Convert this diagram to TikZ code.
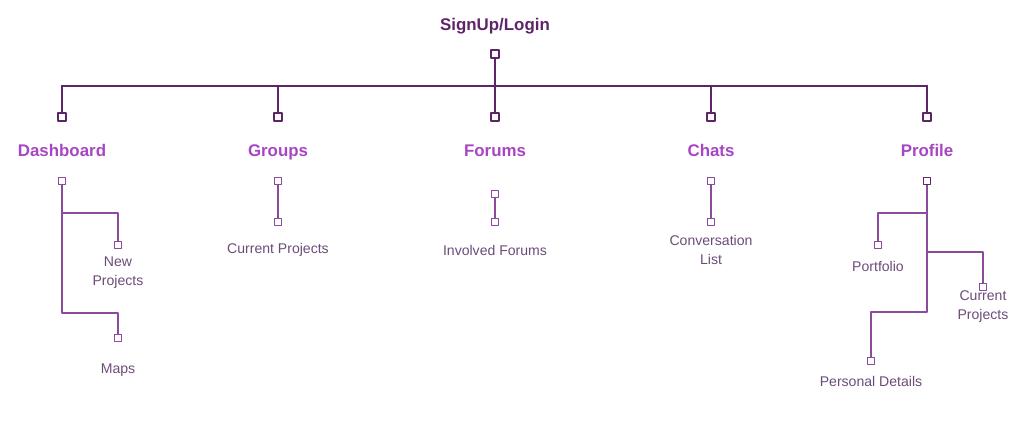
\documentclass[tikz,border=0pt]{standalone}
\usepackage{fontspec}
\setmainfont{Liberation Sans}
\usetikzlibrary{positioning}
\definecolor{rootc}{HTML}{5E2468}
\definecolor{headc}{HTML}{A845C4}
\definecolor{subc}{HTML}{8A4A9E}
\definecolor{textc}{HTML}{6B4C78}

\begin{document}
\begin{tikzpicture}[line cap=round,line join=round,x=0.025cm,y=-0.025cm,
  bigbox/.style={draw=rootc, line width=1.6pt, fill=white, minimum size=6pt, inner sep=0pt},
  smallbox/.style={draw=subc, line width=0.8pt, fill=white, minimum size=5pt, inner sep=0pt},
  head/.style={text=headc, anchor=base, font=\bfseries\fontsize{12}{14}\selectfont},
  leaf/.style={text=textc, font=\fontsize{10}{13.5}\selectfont, align=center},
  trunk/.style={draw=rootc, line width=1.6pt},
  twig/.style={draw=subc, line width=0.8pt}]
\useasboundingbox (0,0) rectangle (1032,427);

% Root
\node [text=rootc, anchor=base, font=\bfseries\fontsize{12}{14}\selectfont] (root) at (495,31) {SignUp/Login};
\node [bigbox] (rootbox) at (495,54) {};
\coordinate (barL) at (62,86);
\coordinate (barR) at (927,86);
\draw [trunk] (barL) -- (barR);
\draw [trunk] (rootbox) -- (495,86);

% Main sections
\foreach \name/\txt/\x in {dash/Dashboard/62, grp/Groups/278, frm/Forums/495, cht/Chats/711, prf/Profile/927} {
  \node [bigbox] (\name top) at (\x,117) {};
  \node [head] (\name) at (\x,156) {\txt};
  \draw [trunk] (\x,86) -- (\name top);
}

% Dashboard
\node [smallbox] (dashbox) at (62,181) {};
\node [smallbox] (newbox) at (118,245) {};
\node [leaf] (new) at (118,273) {New\\Projects};
\node [smallbox] (mapbox) at (118,338) {};
\node [leaf] (maps) at (118,370) {Maps};
\coordinate (dashA) at (62,213);
\coordinate (dashB) at (62,313);
\draw [twig] (dashbox) -- (dashB) -- (118,313) -- (mapbox);
\draw [twig] (dashA) -- (118,213) -- (newbox);

% Groups
\node [smallbox] (grpbox) at (278,181) {};
\node [smallbox] (curbox) at (278,222) {};
\node [leaf] (cur) at (278,250) {Current Projects};
\draw [twig] (grpbox) -- (curbox);

% Forums
\node [smallbox] (frmbox) at (495,194) {};
\node [smallbox] (invbox) at (495,222) {};
\node [leaf] (inv) at (495,250) {Involved Forums};
\draw [twig] (frmbox) -- (invbox);

% Chats
\node [smallbox] (chtbox) at (711,181) {};
\node [smallbox] (convbox) at (711,222) {};
\node [leaf] (conv) at (711,250) {Conversation\\List};
\draw [twig] (chtbox) -- (convbox);

% Profile
\node [bigbox, line width=1.2pt, minimum size=5pt] (prfbox) at (927,181) {};
\node [smallbox] (portbox) at (878,245) {};
\node [leaf] (port) at (878,266) {Portfolio};
\node [smallbox] (pcurbox) at (983,287) {};
\node [leaf] (pcur) at (983,307) {Current\\Projects};
\node [smallbox] (persbox) at (871,361) {};
\node [leaf] (pers) at (871,381) {Personal Details};
\coordinate (prfA) at (927,213);
\coordinate (prfB) at (927,252);
\coordinate (prfC) at (927,312);
\draw [twig] (prfbox) -- (prfC) -- (871,312) -- (persbox);
\draw [twig] (prfA) -- (878,213) -- (portbox);
\draw [twig] (prfB) -- (983,252) -- (pcurbox);
\end{tikzpicture}
\end{document}
